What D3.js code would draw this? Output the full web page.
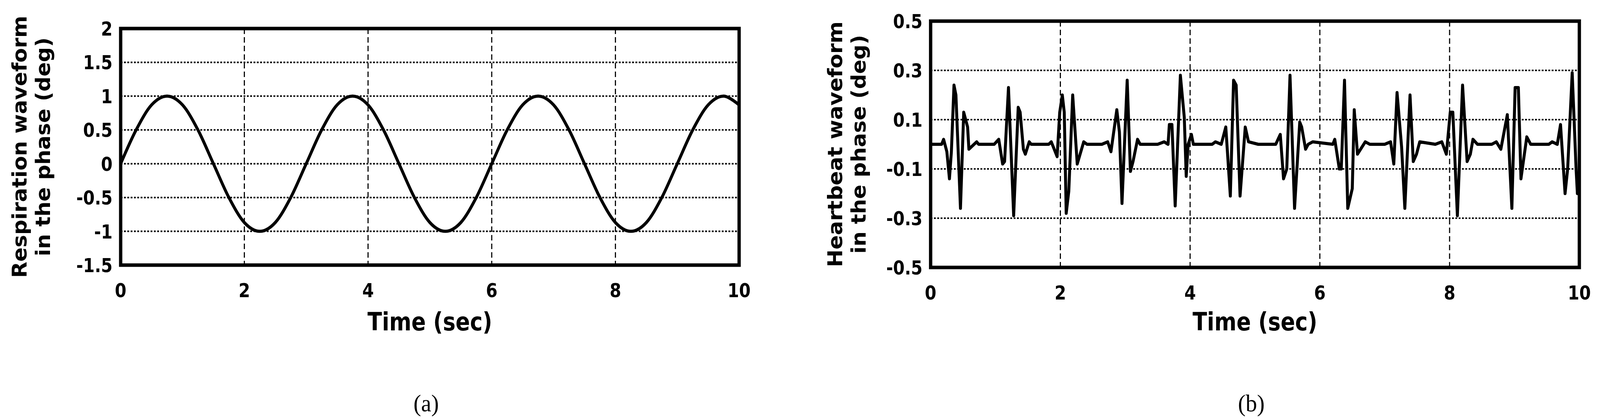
<!DOCTYPE html>
<html><head><meta charset="utf-8">
<script src="https://cdn.jsdelivr.net/npm/d3@7"></script>
<style>html,body{margin:0;padding:0;background:#fff;overflow:hidden}svg{display:block}</style></head>
<body><svg id="c" viewBox="0 0 4336 1069" preserveAspectRatio="none" style="width:100vw;height:100vh"></svg>
<script>
// Respiration (a)
const respTime = [0,.25,.5,.75,1,1.25,1.5,1.75,2,2.25,2.5,2.75,3,3.25,3.5,3.75,4,4.25,4.5,4.75,5,5.25,5.5,5.75,6,6.25,6.5,6.75,7,7.25,7.5,7.75,8,8.25,8.5,8.75,9,9.25,9.5,9.75,10];
const respValue = [0,.5,.87,1,.87,.5,0,-.5,-.87,-1,-.87,-.5,0,.5,.87,1,.87,.5,0,-.5,-.87,-1,-.87,-.5,0,.5,.87,1,.87,.5,0,-.5,-.87,-1,-.87,-.5,0,.5,.87,1,.87];
const respYTicks = [-1.5,-1,-0.5,0,0.5,1,1.5,2];
const respYLabels = ["-1.5","-1","-0.5","0","0.5","1","1.5","2"];
// Heartbeat (b)
const hbTime = [0,.17,.20,.25,.29,.32,.36,.39,.46,.51,.57,.59,.71,.74,.98,1.05,1.11,1.14,1.20,1.28,1.35,1.38,1.43,1.46,1.52,1.55,1.82,1.86,1.95,1.99,2.03,2.06,2.09,2.13,2.19,2.26,2.36,2.41,2.64,2.73,2.78,2.87,2.91,2.95,3.03,3.08,3.12,3.19,3.23,3.50,3.60,3.66,3.68,3.72,3.77,3.85,3.91,3.94,3.97,4.02,4.05,4.34,4.39,4.48,4.55,4.62,4.67,4.71,4.77,4.85,4.90,5.05,5.32,5.39,5.44,5.49,5.54,5.61,5.69,5.72,5.78,5.82,5.89,6.20,6.23,6.30,6.33,6.38,6.43,6.50,6.53,6.58,6.70,6.77,7.00,7.09,7.14,7.19,7.26,7.31,7.39,7.44,7.49,7.54,7.78,7.88,7.95,8.01,8.05,8.12,8.20,8.27,8.32,8.36,8.43,8.65,8.72,8.79,8.89,8.96,9.01,9.06,9.10,9.19,9.25,9.53,9.58,9.66,9.71,9.78,9.82,9.89,9.95,9.97,10];
const hbValue = [0,0,.02,-.03,-.14,-.03,.24,.2,-.26,.13,.07,-.02,.01,0,0,.02,-.08,-.07,.23,-.29,.15,.13,-.02,-.04,.01,0,0,.01,-.05,.13,.2,.13,-.28,-.19,.2,-.08,.01,0,0,.01,-.03,.14,.05,-.24,.26,-.11,-.07,.02,0,0,.01,0,.08,.08,-.25,.28,.11,-.13,0,.04,0,0,.01,0,.07,-.21,.26,.24,-.21,.07,.01,0,0,.04,-.14,-.1,.28,-.26,.09,.07,-.02,0,.01,0,.02,-.1,-.1,.26,-.26,-.18,.14,-.04,.01,0,0,.01,-.08,.21,-.01,-.26,.2,-.07,-.04,.01,0,.01,-.04,.13,.13,-.29,.24,-.07,-.04,.02,0,0,.01,-.02,.12,-.26,.23,.23,-.14,.03,0,0,.01,0,.08,-.2,-.1,.29,-.1,-.2,-.2];
const hbYTicks = [-0.5,-0.3,-0.1,0.1,0.3,0.5];
const hbYLabels = ["-0.5","-0.3","-0.1","0.1","0.3","0.5"];
const xTicks = [0,2,4,6,8,10];
const xLabels = ["0","2","4","6","8","10"];

const svg = d3.select("#c");
const tickFont = "'DejaVu Sans Condensed','DejaVu Sans',sans-serif";

function panel(o){
  const x = d3.scaleLinear().domain([0,10]).range([o.x0,o.x1]);
  const y = d3.scaleLinear().domain(o.yDomain).range([o.y1,o.y0]);
  const g = svg.append("g");
  g.selectAll(".vg").data(xTicks.slice(1,-1)).join("line")
    .attr("x1",d=>x(d)).attr("x2",d=>x(d)).attr("y1",o.y0).attr("y2",o.y1)
    .attr("stroke","#000").attr("stroke-width",3).attr("stroke-dasharray","14,8");
  g.selectAll(".hg").data(o.yTicks.slice(1,-1)).join("line")
    .attr("y1",d=>y(d)).attr("y2",d=>y(d)).attr("x1",o.x0).attr("x2",o.x1)
    .attr("stroke","#000").attr("stroke-width",4).attr("stroke-dasharray","5,4");
  const line = d3.line().x((d,i)=>x(o.t[i])).y((d,i)=>y(o.v[i])).curve(o.curve);
  g.append("path").datum(o.v).attr("d",line).attr("fill","none")
    .attr("stroke","#000").attr("stroke-width",o.lw).attr("stroke-linejoin","round");
  g.append("rect").attr("x",o.x0).attr("y",o.y0).attr("width",o.x1-o.x0).attr("height",o.y1-o.y0)
    .attr("fill","none").attr("stroke","#000").attr("stroke-width",9);
  g.selectAll(".yl").data(o.yTicks).join("text")
    .attr("x",o.x0-22).attr("y",d=>y(d)).attr("dy","0.36em").attr("text-anchor","end")
    .attr("font-family",tickFont).attr("font-weight","bold").attr("font-size",50)
    .text((d,i)=>o.yLabels[i]);
  g.selectAll(".xl").data(xTicks).join("text")
    .attr("x",d=>x(d)).attr("y",o.y1+82).attr("text-anchor","middle")
    .attr("font-family",tickFont).attr("font-weight","bold").attr("font-size",50)
    .text((d,i)=>xLabels[i]);
  const cx=(o.x0+o.x1)/2, cy=(o.y0+o.y1)/2;
  g.append("text").attr("x",cx).attr("y",845).attr("text-anchor","middle")
    .attr("font-family",tickFont).attr("font-weight","bold").attr("font-size",64).text("Time (sec)");
  const yt = g.append("text").attr("transform",`translate(${o.tx},${cy}) rotate(-90)`)
    .attr("text-anchor","middle").attr("font-family","'DejaVu Sans',sans-serif")
    .attr("font-weight","bold").attr("font-size",54);
  yt.append("tspan").attr("x",0).attr("y",0).text(o.title[0]);
  yt.append("tspan").attr("x",0).attr("y",64).text(o.title[1]);
  g.append("text").attr("x",cx-10).attr("y",1052).attr("text-anchor","middle")
    .attr("font-family","'Liberation Serif',serif").attr("font-size",62).text(o.cap);
}
panel({x0:327,x1:2003,y0:73,y1:678,yDomain:[-1.5,2],yTicks:respYTicks,yLabels:respYLabels,
  t:respTime,v:respValue,curve:d3.curveCardinal,lw:8,tx:72,
  title:["Respiration waveform","in the  phase (deg)"],cap:"(a)"});
panel({x0:2522,x1:4280,y0:54,y1:684,yDomain:[-0.5,0.5],yTicks:hbYTicks,yLabels:hbYLabels,
  t:hbTime,v:hbValue,curve:d3.curveLinear,lw:8,tx:2282,
  title:["Heartbeat waveform","in the phase (deg)"],cap:"(b)"});
</script></body></html>
